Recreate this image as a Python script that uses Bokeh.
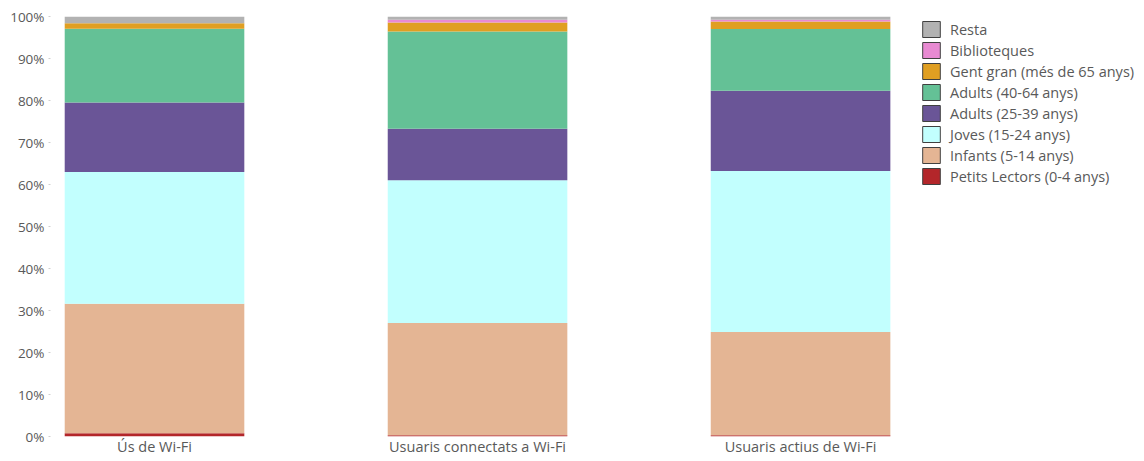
from bokeh.plotting import figure
from bokeh.models import ColumnDataSource, FixedTicker, PrintfTickFormatter, Legend, LegendItem, Range1d
from bokeh.embed import file_html
from bokeh.resources import INLINE

categories = ["Ús de Wi-Fi", "Usuaris connectats a Wi-Fi", "Usuaris actius de Wi-Fi"]
series_names = ["Petits Lectors (0-4 anys)", "Infants (5-14 anys)", "Joves (15-24 anys)",
                "Adults (25-39 anys)", "Adults (40-64 anys)", "Gent gran (més de 65 anys)",
                "Biblioteques", "Resta"]
petits = [0.8, 0.3, 0.3]
infants = [30.8, 26.7, 24.6]
joves = [31.4, 34.0, 38.3]
adults_25_39 = [16.5, 12.3, 19.1]
adults_40_64 = [17.6, 23.1, 14.7]
gent_gran = [1.3, 2.2, 1.8]
biblioteques = [0.0, 0.6, 0.4]
resta = [1.6, 0.8, 0.8]
colors = ["#B3262A", "#E4B594", "#C2FFFE", "#6A5597", "#64C196", "#E09F22", "#E88AD2", "#B2B2B2"]

keys = ["petits", "infants", "joves", "a25", "a40", "gg", "bib", "resta"]
data = dict(x=[0, 1, 2], petits=petits, infants=infants, joves=joves, a25=adults_25_39,
            a40=adults_40_64, gg=gent_gran, bib=biblioteques, resta=resta)
src = ColumnDataSource(data)

p = figure(width=1140, height=458, output_backend="svg", toolbar_location=None,
           x_range=Range1d(-0.322, 3.04), y_range=Range1d(0, 100),
           min_border_left=50, min_border_top=16, min_border_bottom=21, min_border_right=4)
p.outline_line_color = None
p.xgrid.visible = False
p.ygrid.visible = False

renderers = p.vbar_stack(keys, x="x", width=0.556, color=colors, source=src, line_width=0)
for r in renderers:
    r.glyph.line_color = None

# outlined, hidden copies used only as legend keys
legend_rs = p.vbar_stack(keys, x="x", width=0.556, fill_color=colors, line_color="#404040",
                         line_width=1, source=src)
for r in legend_rs:
    r.visible = False

p.yaxis.ticker = FixedTicker(ticks=list(range(0, 101, 10)))
p.yaxis.formatter = PrintfTickFormatter(format="%d%%")
p.yaxis.axis_line_color = None
p.yaxis.major_tick_line_color = "#D0D0D0"
p.yaxis.major_tick_out = 2
p.yaxis.major_tick_in = 0
p.yaxis.minor_tick_line_color = None
p.yaxis.major_label_text_font = "Open Sans"
p.yaxis.major_label_text_font_size = "13.5px"
p.yaxis.major_label_text_color = "#595959"
p.yaxis.major_label_standoff = 4

p.xaxis.ticker = FixedTicker(ticks=[0, 1, 2])
p.xaxis.major_label_overrides = {i: c for i, c in enumerate(categories)}
p.xaxis.axis_line_color = None
p.xaxis.major_tick_line_color = None
p.xaxis.major_tick_out = 0
p.xaxis.major_tick_in = 0
p.xaxis.minor_tick_line_color = None
p.xaxis.minor_tick_out = 0
p.xaxis.major_label_text_font = "Open Sans"
p.xaxis.major_label_text_font_size = "14.5px"
p.xaxis.major_label_text_color = "#595959"
p.xaxis.major_label_standoff = 0

items = [LegendItem(label=series_names[i], renderers=[legend_rs[i]]) for i in reversed(range(8))]
legend = Legend(items=items, location=(870, 250), margin=0, padding=0, spacing=1,
                glyph_width=22, glyph_height=20, label_height=20, label_standoff=8,
                label_text_font="Open Sans", label_text_font_size="14.5px",
                label_text_color="#595959", border_line_color=None, background_fill_alpha=0,
                inactive_fill_alpha=0)
p.add_layout(legend)

open("out.html", "w").write(file_html(p, INLINE))
